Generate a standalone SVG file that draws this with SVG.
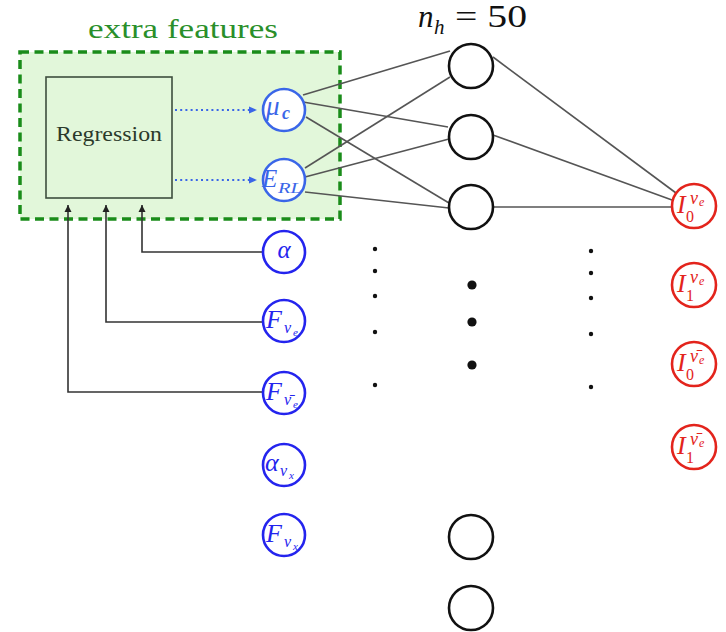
<svg xmlns="http://www.w3.org/2000/svg" width="726" height="632" viewBox="0 0 726 632">
<style>
  text { font-family: "Liberation Serif", "DejaVu Serif", serif; }
  .it { font-style: italic; }
  .conn { stroke: #555; stroke-width: 1.6; fill: none; }
  .fb { stroke: #333; stroke-width: 1.6; fill: none; marker-end: url(#blk); }
  .dot-arrow { stroke: #3a66e8; stroke-width: 2; stroke-dasharray: 2 3.2; fill: none; marker-end: url(#blu); }
  .inB { fill: #fff; stroke: #3a66e8; stroke-width: 2.6; }
  .inB2 { fill: #fff; stroke: #2424ee; stroke-width: 2.6; }
  .hid { fill: #fff; stroke: #111; stroke-width: 2.6; }
  .out { fill: #fff; stroke: #e3241c; stroke-width: 2.6; }
  .tB { fill: #3a66e8; }
  .tB2 { fill: #2424ee; }
  .tR { fill: #e3241c; }
  .big { font-size: 26px; }
  .sub { font-size: 16px; }
  .sub2 { font-size: 11px; }
</style>
<defs>
  <marker id="blk" markerUnits="userSpaceOnUse" markerWidth="8" markerHeight="8" refX="7" refY="4" orient="auto">
    <path d="M0,0.5 L7,4 L0,7.5 Z" fill="#222"/>
  </marker>
  <marker id="blu" markerUnits="userSpaceOnUse" markerWidth="9" markerHeight="8" refX="8" refY="4" orient="auto">
    <path d="M0,0.5 L8,4 L0,7.5 Z" fill="#3a66e8"/>
  </marker>
</defs>

<rect width="726" height="632" fill="#fff"/>

<g id="extra-features">
  <rect x="20" y="52" width="320" height="167" fill="#e2f7da" stroke="#1a8c1a" stroke-width="3.5" stroke-dasharray="9 5.5"/>
  <text x="183" y="38" font-size="27" fill="#2a8f2a" text-anchor="middle" textLength="190" lengthAdjust="spacingAndGlyphs">extra features</text>
</g>

<g id="regression">
  <rect x="46" y="77" width="126" height="121" fill="#e2f7da" stroke="#3e4e3e" stroke-width="1.6"/>
  <text x="109" y="141" font-size="22" fill="#2b3a2b" text-anchor="middle" textLength="106" lengthAdjust="spacingAndGlyphs">Regression</text>
</g>

<g id="connectors">
  <line class="conn" x1="303" y1="95" x2="450" y2="51"/>
  <line class="conn" x1="303" y1="102" x2="448" y2="127"/>
  <line class="conn" x1="306" y1="117" x2="449" y2="203"/>
  <line class="conn" x1="305" y1="168" x2="450" y2="77"/>
  <line class="conn" x1="305" y1="177" x2="449" y2="139"/>
  <line class="conn" x1="305" y1="192" x2="449" y2="208"/>
  <line class="conn" x1="493" y1="57" x2="676" y2="193"/>
  <line class="conn" x1="493" y1="135" x2="672" y2="200"/>
  <line class="conn" x1="493" y1="207" x2="672" y2="207"/>
  <path class="fb" d="M263,252 H142 V205"/>
  <path class="fb" d="M263,322 H106 V205"/>
  <path class="fb" d="M263,392 H68 V205"/>
  <line class="dot-arrow" x1="175" y1="110" x2="257" y2="110"/>
  <line class="dot-arrow" x1="175" y1="180" x2="257" y2="180"/>
</g>

<g id="in-mu-c">
  <circle class="inB" cx="284" cy="110" r="21"/>
  <text class="it tB" x="266" y="115" font-size="27">μ</text>
  <text class="it tB" x="282" y="119" font-size="18" font-weight="bold">c</text>
</g>
<g id="in-E-RL">
  <circle class="inB" cx="284" cy="180" r="21"/>
  <text class="it tB" x="262" y="187" font-size="25">E</text>
  <text class="it tB" x="278" y="193" font-size="15" textLength="24" lengthAdjust="spacingAndGlyphs">RL</text>
</g>
<g id="in-alpha">
  <circle class="inB2" cx="284" cy="252" r="21"/>
  <text class="it tB2" x="284" y="258" font-size="25" text-anchor="middle">α</text>
</g>
<g id="in-F-nue">
  <circle class="inB2" cx="284" cy="321" r="21"/>
  <text class="it tB2 big" x="266" y="328">F</text>
  <text class="it tB2 sub" x="284" y="333">ν</text>
  <text class="it tB2 sub2" x="293" y="336">e</text>
</g>
<g id="in-F-nuebar">
  <circle class="inB2" cx="284" cy="393" r="21"/>
  <text class="it tB2 big" x="266" y="400">F</text>
  <text class="it tB2 sub" x="284" y="405">ν̄</text>
  <text class="it tB2 sub2" x="293" y="408">e</text>
</g>
<g id="in-alpha-nux">
  <circle class="inB2" cx="284" cy="465" r="21"/>
  <text class="it tB2" x="265" y="471" font-size="26">α</text>
  <text class="it tB2 sub" x="280" y="476">ν</text>
  <text class="it tB2 sub2" x="289" y="479">x</text>
</g>
<g id="in-F-nux">
  <circle class="inB2" cx="284" cy="535" r="21"/>
  <text class="it tB2 big" x="266" y="542">F</text>
  <text class="it tB2 sub" x="284" y="547">ν</text>
  <text class="it tB2 sub2" x="293" y="550">x</text>
</g>

<g id="hidden-label" fill="#111">
  <text class="it" x="418" y="27" font-size="31">n</text>
  <text class="it" x="434" y="34" font-size="21">h</text>
  <text x="455" y="27" font-size="31" textLength="72" lengthAdjust="spacingAndGlyphs">= 50</text>
</g>
<g id="h1"><circle class="hid" cx="471" cy="66" r="22"/></g>
<g id="h2"><circle class="hid" cx="471" cy="137" r="22"/></g>
<g id="h3"><circle class="hid" cx="471" cy="207" r="22"/></g>
<g id="h4"><circle class="hid" cx="471" cy="537" r="22"/></g>
<g id="h5"><circle class="hid" cx="471" cy="608" r="22"/></g>

<g id="dots" fill="#111">
  <circle cx="375" cy="249" r="2.2"/><circle cx="375" cy="271" r="2.2"/><circle cx="375" cy="296" r="2.2"/><circle cx="375" cy="332" r="2.2"/><circle cx="375" cy="385" r="2.2"/>
  <circle cx="472" cy="285" r="4.6"/><circle cx="472" cy="322" r="4.6"/><circle cx="472" cy="365" r="4.6"/>
  <circle cx="591" cy="251" r="2.2"/><circle cx="591" cy="273" r="2.2"/><circle cx="591" cy="298" r="2.2"/><circle cx="591" cy="334" r="2.2"/><circle cx="591" cy="387" r="2.2"/>
</g>

<g id="out-I0-nue">
  <circle class="out" cx="694" cy="206" r="22"/>
  <text class="it tR" x="677" y="213" font-size="26">I</text>
  <text class="tR" x="686" y="222" font-size="16">0</text>
  <text class="it tR" x="690" y="204" font-size="18">ν</text>
  <text class="it tR" x="699" y="206" font-size="12">e</text>
</g>
<g id="out-I1-nue">
  <circle class="out" cx="694" cy="285" r="22"/>
  <text class="it tR" x="677" y="292" font-size="26">I</text>
  <text class="tR" x="686" y="301" font-size="16">1</text>
  <text class="it tR" x="690" y="283" font-size="18">ν</text>
  <text class="it tR" x="699" y="285" font-size="12">e</text>
</g>
<g id="out-I0-nuebar">
  <circle class="out" cx="694" cy="364" r="22"/>
  <text class="it tR" x="677" y="371" font-size="26">I</text>
  <text class="tR" x="686" y="380" font-size="16">0</text>
  <text class="it tR" x="690" y="362" font-size="18">ν̄</text>
  <text class="it tR" x="699" y="364" font-size="12">e</text>
</g>
<g id="out-I1-nuebar">
  <circle class="out" cx="694" cy="447" r="22"/>
  <text class="it tR" x="677" y="454" font-size="26">I</text>
  <text class="tR" x="686" y="463" font-size="16">1</text>
  <text class="it tR" x="690" y="445" font-size="18">ν̄</text>
  <text class="it tR" x="699" y="447" font-size="12">e</text>
</g>
</svg>
